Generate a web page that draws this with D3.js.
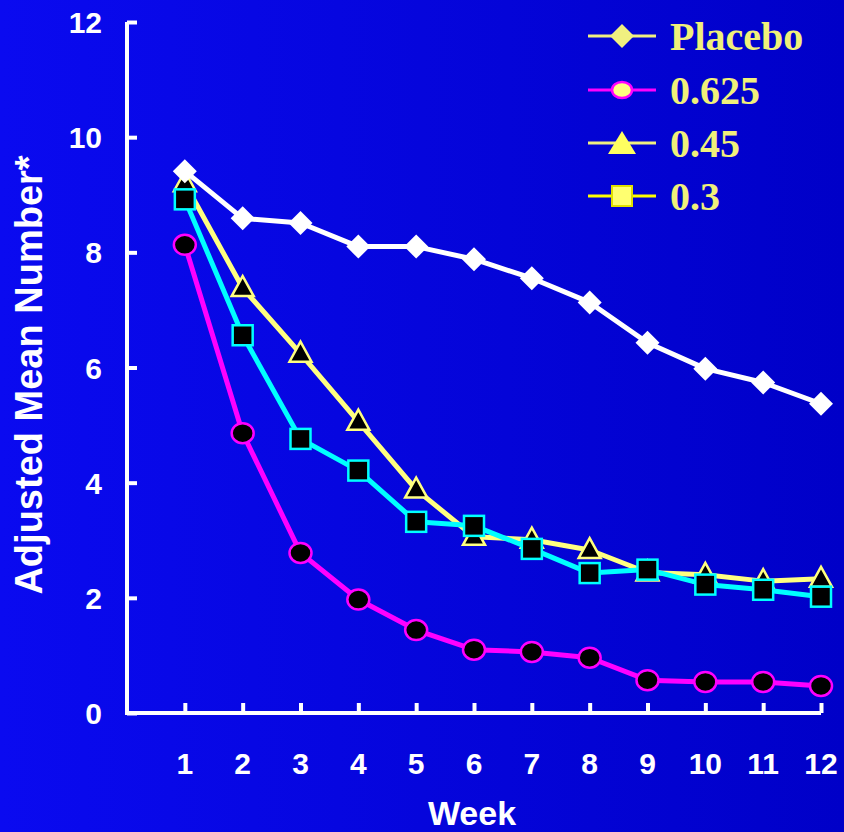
<!DOCTYPE html>
<html>
<head>
<meta charset="utf-8">
<script src="https://cdn.jsdelivr.net/npm/d3@7"></script>
<style>
  html, body { margin: 0; padding: 0; }
  svg { display: block; }
</style>
</head>
<body>
<svg id="chart" width="844" height="832"></svg>
<script>
// data
const weeks = [1, 2, 3, 4, 5, 6, 7, 8, 9, 10, 11, 12];
const placebo = [9.41, 8.59, 8.51, 8.10, 8.10, 7.88, 7.55, 7.13, 6.43, 5.98, 5.74, 5.37];
const dose0625 = [8.13, 4.86, 2.78, 1.97, 1.44, 1.10, 1.06, 0.96, 0.57, 0.54, 0.54, 0.47];
const dose045 = [9.20, 7.38, 6.24, 5.06, 3.88, 3.06, 3.01, 2.83, 2.44, 2.40, 2.29, 2.33];
const dose03 = [8.92, 6.56, 4.76, 4.21, 3.32, 3.25, 2.85, 2.43, 2.49, 2.23, 2.14, 2.02];
const yTicks = [0, 2, 4, 6, 8, 10, 12];
const legendLabels = ['Placebo', '0.625', '0.45', '0.3'];

const svg = d3.select('#chart');

const grad = svg.append('defs').append('linearGradient')
    .attr('id', 'bg').attr('x1', '0%').attr('x2', '100%').attr('y1', '0%').attr('y2', '0%');
grad.append('stop').attr('offset', '0%').attr('stop-color', 'rgb(10,10,240)');
grad.append('stop').attr('offset', '100%').attr('stop-color', 'rgb(0,0,200)');
svg.append('rect').attr('width', 844).attr('height', 832).attr('fill', 'url(#bg)');

const x = d3.scaleLinear().domain([0, 12]).range([127, 821]);
const y = d3.scaleLinear().domain([0, 12]).range([713, 22]);

const font = 'Arial, "Liberation Sans", sans-serif';

// axes
const yAxis = svg.append('g').attr('transform', `translate(${x(0)},0)`)
    .call(d3.axisRight(y).tickValues(yTicks).tickSize(10).tickFormat(''));
yAxis.select('.domain').remove();
yAxis.selectAll('line').attr('stroke', 'white').attr('stroke-width', 4);

const xAxis = svg.append('g').attr('transform', `translate(0,${y(0)})`)
    .call(d3.axisTop(x).tickValues(weeks).tickSize(10).tickFormat(''));
xAxis.select('.domain').remove();
xAxis.selectAll('line').attr('stroke', 'white').attr('stroke-width', 4);

svg.append('path')
    .attr('d', `M${x(0)},${y(12)} V${y(0)} H${x(12)}`)
    .attr('fill', 'none').attr('stroke', 'white').attr('stroke-width', 4);

svg.append('g').selectAll('text').data(yTicks).join('text')
    .attr('x', 102).attr('y', d => y(d) + 11)
    .attr('text-anchor', 'end').attr('fill', 'white')
    .style('font', `bold 30px ${font}`).text(d => d);

svg.append('g').selectAll('text').data(weeks).join('text')
    .attr('x', d => x(d)).attr('y', 774)
    .attr('text-anchor', 'middle').attr('fill', 'white')
    .style('font', `bold 30px ${font}`).text(d => d);

svg.append('text').attr('x', 472).attr('y', 825)
    .attr('text-anchor', 'middle').attr('fill', 'white')
    .style('font', `bold 34px ${font}`).text('Week');

svg.append('text').attr('transform', 'translate(42,375) rotate(-90)')
    .attr('text-anchor', 'middle').attr('fill', 'white')
    .style('font', `bold 38px ${font}`).text('Adjusted Mean Number*');

// series
const line = d3.line().x((d, i) => x(weeks[i])).y(d => y(d));

function drawSeries(values, color, marker) {
    const g = svg.append('g');
    g.append('path').datum(values).attr('d', line)
        .attr('fill', 'none').attr('stroke', color).attr('stroke-width', 5)
        .attr('stroke-linejoin', 'round');
    g.selectAll('.m').data(values).join(d => marker(d.append('g')))
        .attr('transform', (d, i) => `translate(${x(weeks[i])},${y(d)})`);
}

drawSeries(dose0625, '#ff00ff', s => {
    s.append('ellipse').attr('rx', 11).attr('ry', 10)
        .attr('fill', 'black').attr('stroke', '#ff00ff').attr('stroke-width', 2.5);
    return s;
});
drawSeries(dose045, '#ffff80', s => {
    s.append('path').attr('d', 'M0,-12 L11,8 L-11,8 Z')
        .attr('fill', 'black').attr('stroke', '#ffff80').attr('stroke-width', 2.5);
    return s;
});
drawSeries(dose03, '#00ffff', s => {
    s.append('rect').attr('x', -10).attr('y', -10).attr('width', 20).attr('height', 20)
        .attr('fill', 'black').attr('stroke', '#00ffff').attr('stroke-width', 2.5);
    return s;
});
drawSeries(placebo, 'white', s => {
    s.append('path').attr('d', 'M0,-12 L12,0 L0,12 L-12,0 Z').attr('fill', 'white');
    return s;
});

// legend
const legendY = [36, 90, 143, 196];
const lg = svg.append('g');
legendLabels.forEach((lab, i) => {
    const row = lg.append('g').attr('transform', `translate(0,${legendY[i]})`);
    const lineColor = i === 1 ? '#ff00ff' : (i === 3 ? '#ffff00' : '#f0f080');
    row.append('line').attr('x1', 588).attr('x2', 656)
        .attr('stroke', lineColor).attr('stroke-width', 3);
    const m = row.append('g').attr('transform', 'translate(622,0)');
    if (i === 0) {
        m.append('path').attr('d', 'M0,-12 L12,0 L0,12 L-12,0 Z').attr('fill', '#f0f080');
    } else if (i === 1) {
        m.append('ellipse').attr('rx', 10).attr('ry', 8)
            .attr('fill', '#ffff80').attr('stroke', '#ff00ff').attr('stroke-width', 2.5);
    } else if (i === 2) {
        m.append('path').attr('d', 'M0,-12 L14,11 L-14,11 Z').attr('fill', '#ffff60');
    } else {
        m.append('rect').attr('x', -10).attr('y', -10).attr('width', 20).attr('height', 20)
            .attr('fill', '#ffff70').attr('stroke', '#e0e000').attr('stroke-width', 2);
    }
    row.append('text').attr('x', 670).attr('dy', '0.35em').attr('fill', '#f0f07a')
        .style('font', 'bold 40px "Liberation Serif", "Times New Roman", serif').text(lab);
});
</script>
</body>
</html>
